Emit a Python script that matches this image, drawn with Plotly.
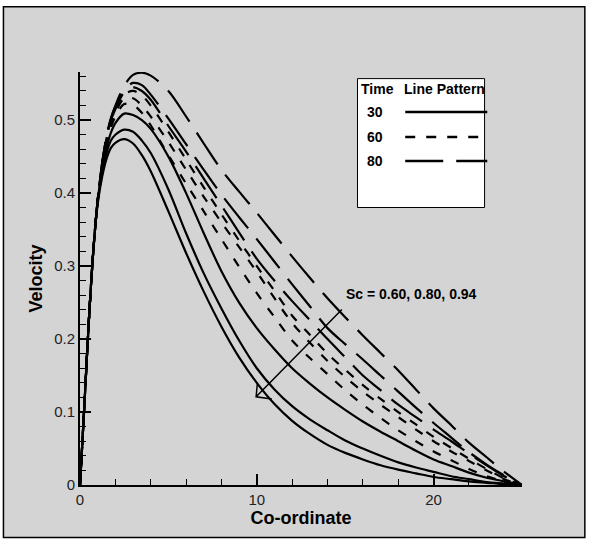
import plotly.graph_objects as go

# ---------------- data ----------------
x_coord = [0, 0.25, 0.5, 0.75, 1, 1.25, 1.5, 1.75, 2, 2.5, 3, 3.5, 4, 5, 6, 7, 8, 9, 10,
           11, 12, 13, 14, 15, 16, 17, 18, 19, 20, 21, 22, 23, 24, 25]

# Time = 30 (solid)
t30_sc094 = [0, .11, .225, .32, .385, .422, .447, .462, .469, .474, .468, .452, .43, .375, .318, .265, .217, .175, .14,
             .111, .088, .07, .055, .044, .035, .027, .021, .016, .011, .008, .005, .003, .001, 0]
t30_sc080 = [0, .11, .225, .32, .388, .428, .455, .472, .48, .487, .484, .472, .455, .405, .345, .29, .242, .198, .16,
             .131, .108, .09, .075, .061, .05, .04, .031, .024, .018, .012, .008, .004, .002, 0]
t30_sc060 = [0, .11, .225, .32, .39, .432, .462, .483, .496, .509, .507, .5, .488, .45, .4, .345, .293, .25, .215,
             .186, .16, .139, .12, .103, .087, .073, .06, .047, .035, .026, .017, .01, .005, 0]
# Time = 60 (dashed)
t60_sc094 = [0, .11, .225, .32, .39, .437, .468, .49, .505, .522, .521, .51, .493, .452, .413, .375, .337, .299, .263,
             .23, .198, .174, .152, .13, .11, .092, .075, .06, .046, .034, .022, .012, .005, 0]
t60_sc080 = [0, .11, .225, .32, .39, .438, .472, .495, .51, .53, .53, .52, .505, .47, .432, .395, .36, .326, .292,
             .256, .222, .195, .17, .148, .128, .11, .093, .076, .06, .046, .033, .02, .008, 0]
t60_sc060 = [0, .11, .225, .32, .39, .44, .475, .5, .515, .535, .54, .534, .52, .484, .446, .408, .371, .335, .3,
             .266, .232, .206, .18, .158, .137, .118, .1, .083, .066, .051, .036, .022, .009, 0]
# Time = 80 (long dash)
t80_sc094 = [0, .11, .225, .32, .39, .44, .476, .5, .515, .538, .545, .54, .528, .492, .457, .42, .383, .346, .31,
             .28, .252, .226, .2, .175, .15, .13, .11, .093, .076, .06, .043, .027, .012, 0]
t80_sc080 = [0, .11, .225, .32, .39, .44, .477, .502, .518, .542, .551, .548, .535, .502, .467, .432, .398, .367, .337,
             .306, .275, .245, .215, .193, .172, .15, .128, .106, .085, .065, .045, .028, .013, 0]
t80_sc060 = [0, .11, .225, .32, .39, .44, .478, .503, .52, .547, .562, .565, .561, .54, .505, .468, .432, .402, .373,
             .343, .313, .284, .256, .23, .205, .181, .157, .131, .105, .082, .058, .038, .018, 0]

times = ["30", "60", "80"]
sc_label = "Sc = 0.60, 0.80, 0.94"
x_ticks = [0, 10, 20]

DASH60 = "9px,11px"
DASH80 = "38px,13px"
series = [
    (t30_sc094, "solid"), (t30_sc080, "solid"), (t30_sc060, "solid"),
    (t60_sc094, DASH60), (t60_sc080, DASH60), (t60_sc060, DASH60),
    (t80_sc094, DASH80), (t80_sc080, DASH80), (t80_sc060, DASH80),
]
patterns = ["solid", "10px,11px", "38px,13px"]

# ---------------- layout geometry ----------------
W, H = 589, 542
L, R, T, B = 80, 589 - 521.7, 71.7, 542 - 485
PW, PH = W - L - R, H - T - B


def px(xp):
    return (xp - L) / PW


def py(yp):
    return (H - B - yp) / PH


FONT = "Liberation Sans, Arial, sans-serif"

fig = go.Figure()
for ys, dash in series:
    fig.add_trace(go.Scatter(
        x=x_coord, y=ys, mode="lines",
        line=dict(color="black", width=2.2, dash=dash, shape="spline", smoothing=0.9),
        showlegend=False, hoverinfo="skip", cliponaxis=False,
    ))

shapes = []
# outer frame
shapes.append(dict(type="rect", xref="paper", yref="paper", layer="below",
                   x0=px(3.5), x1=px(584.5), y0=py(537.5), y1=py(6.5),
                   line=dict(color="black", width=1.5), fillcolor="#d4d4d4"))
# legend box
shapes.append(dict(type="rect", xref="paper", yref="paper", layer="above",
                   x0=px(357.3), x1=px(484.3), y0=py(207.3), y1=py(78.3),
                   line=dict(color="black", width=1), fillcolor="white"))
legend_rows = [111.7, 136.7, 160.7]
for yy, pat in zip(legend_rows, patterns):
    shapes.append(dict(type="line", xref="paper", yref="paper", layer="above",
                       x0=px(405), x1=px(487), y0=py(yy), y1=py(yy),
                       line=dict(color="black", width=2.5, dash=pat)))
# arrow (shaft + open head)
tail = (341.7, 309.3)
tip = (256, 396.7)
b1 = (257.3, 382.7)
b2 = (271.7, 399)
path = (f"M {px(tail[0])},{py(tail[1])} L {px(tip[0])},{py(tip[1])} "
        f"M {px(b1[0])},{py(b1[1])} L {px(tip[0])},{py(tip[1])} L {px(b2[0])},{py(b2[1])}")
shapes.append(dict(type="path", xref="paper", yref="paper", path=path,
                   line=dict(color="black", width=1.5)))

annotations = []


def txt(s, xp, yp, size=14):
    annotations.append(dict(text=s, xref="paper", yref="paper", x=px(xp), y=py(yp),
                            xanchor="center", yanchor="middle", showarrow=False,
                            font=dict(family=FONT, size=size, color="black", weight="bold")))


txt("Time", 377.3, 88.3)
txt("Line Pattern", 444, 88.3)
for yy, t in zip(legend_rows, times):
    txt(t, 375, yy)
txt(sc_label, 411, 294)

fig.update_layout(
    width=W, height=H,
    margin=dict(l=L, r=R, t=T, b=B, pad=0),
    paper_bgcolor="white", plot_bgcolor="rgba(0,0,0,0)",
    showlegend=False,
    shapes=shapes, annotations=annotations,
    font=dict(family=FONT, color="black"),
    xaxis=dict(range=[0, 25], showline=True, linecolor="black", linewidth=2,
               ticks="inside", ticklen=11, tickwidth=1.5, tickcolor="black",
               tickvals=x_ticks, showgrid=False, zeroline=False,
               minor=dict(dtick=2, ticks="inside", ticklen=6, tickwidth=1, tickcolor="black", showgrid=False),
               tickfont=dict(family=FONT, size=15, color="#222"),
               title=dict(text="Co-ordinate", standoff=3,
                          font=dict(family=FONT, size=18, color="black", weight="bold"))),
    yaxis=dict(range=[0, 0.566], showline=True, linecolor="black", linewidth=2,
               ticks="inside", ticklen=11, tickwidth=1.5, tickcolor="black",
               dtick=0.1, tick0=0, showgrid=False, zeroline=False,
               minor=dict(dtick=0.02, ticks="inside", ticklen=6, tickwidth=1, tickcolor="black", showgrid=False),
               tickfont=dict(family=FONT, size=15, color="#222"),
               title=dict(text="Velocity", standoff=7,
                          font=dict(family=FONT, size=18, color="black", weight="bold"))),
)

fig.write_html("out.html")
